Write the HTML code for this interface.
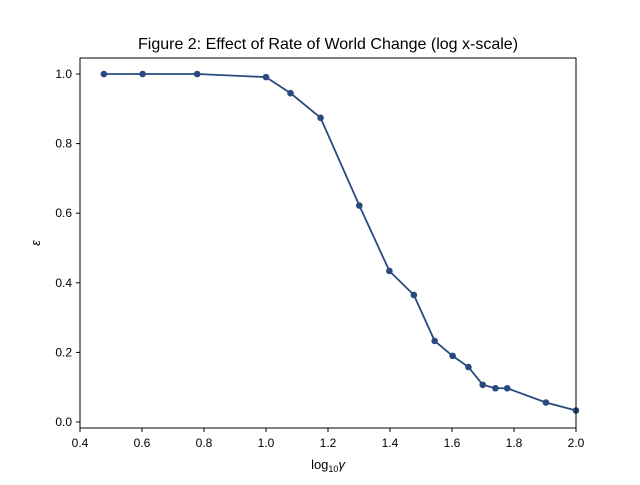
<!DOCTYPE html>
<html><head><meta charset="utf-8"><style>
body{margin:0;background:#fff}
svg text{font-family:"Liberation Sans","DejaVu Sans",sans-serif;fill:#000}
</style></head><body>
<svg id="chart" width="640" height="480">
<rect width="640" height="480" fill="#fff"/>
<text x="328" y="49" text-anchor="middle" font-size="16">Figure 2: Effect of Rate of World Change (log x-scale)</text>
<g id="xt"></g><g id="yt"></g>
<g id="plot"></g>
<rect x="80" y="58" width="496" height="370" fill="none" stroke="#000" stroke-width="1"/>
<text x="328" y="469" text-anchor="middle" font-size="13">log<tspan font-size="9" dy="3">10</tspan><tspan dy="-3" font-style="italic">γ</tspan></text>
<text transform="translate(40,243) rotate(-90)" text-anchor="middle" font-size="13" font-style="italic">ε</text>
</svg>
<script>
const xValues=[0.477,0.602,0.778,1.0,1.079,1.176,1.301,1.398,1.477,1.544,1.602,1.653,1.699,1.740,1.778,1.903,2.0];
const yValues=[1.0,1.0,1.0,0.991,0.945,0.874,0.622,0.434,0.365,0.233,0.19,0.158,0.107,0.097,0.097,0.056,0.033];
const xTicks=["0.4","0.6","0.8","1.0","1.2","1.4","1.6","1.8","2.0"];
const yTicks=["0.0","0.2","0.4","0.6","0.8","1.0"];
const X=v=>80+(v-0.4)*310, Y=v=>422-v*348;
const NS="http://www.w3.org/2000/svg";
function mk(t,a,p){const e=document.createElementNS(NS,t);for(const k in a)e.setAttribute(k,a[k]);p.appendChild(e);return e;}
const xt=document.getElementById('xt'),yt=document.getElementById('yt'),plot=document.getElementById('plot');
xTicks.forEach(s=>{const v=parseFloat(s);
 const l=mk('line',{x1:X(v),x2:X(v),y1:428,y2:432,stroke:'#000'},xt);
 
 
 const t=mk('text',{x:X(v),y:447,'text-anchor':'middle','font-size':'12'},xt);t.textContent=s;
 
 });
yTicks.forEach(s=>{const v=parseFloat(s);
 const l=mk('line',{x1:76,x2:80,y1:Y(v),y2:Y(v),stroke:'#000'},yt);
 
 
 const t=mk('text',{x:72,y:Y(v)+4,'text-anchor':'end','font-size':'12'},yt);t.textContent=s;
 
 });
const pts=xValues.map((x,i)=>X(x)+','+Y(yValues[i])).join(' ');
const pl=mk('polyline',{points:pts,fill:'none',stroke:'#2a4a7f','stroke-width':'1.8'},plot);


xValues.forEach((x,i)=>{const c=mk('circle',{cx:X(x),cy:Y(yValues[i]),r:3.3,fill:'#2a4a7f'},plot);
 
 });
</script>
</body></html>
